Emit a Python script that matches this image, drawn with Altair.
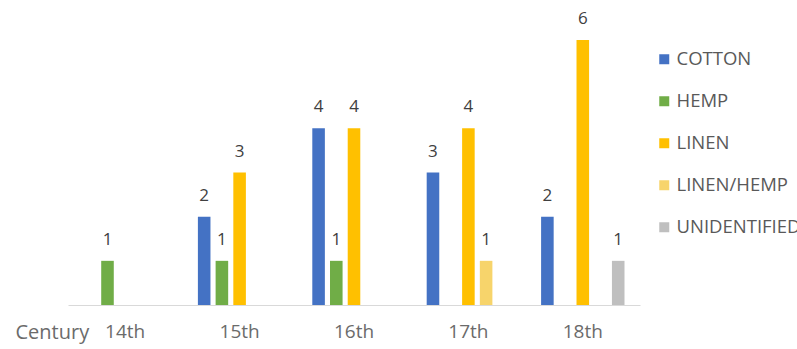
import altair as alt
import pandas as pd

centuries = ["14th", "15th", "16th", "17th", "18th"]
materials = ["COTTON", "HEMP", "LINEN", "LINEN/HEMP", "UNIDENTIFIED"]
colors = ["#4472C4", "#70AD47", "#FFC000", "#F7D46B", "#BFBFBF"]

row_century = ["14th", "15th", "15th", "15th", "16th", "16th", "16th",
               "17th", "17th", "17th", "18th", "18th", "18th"]
row_material = ["HEMP", "COTTON", "HEMP", "LINEN", "COTTON", "HEMP", "LINEN",
                "COTTON", "LINEN", "LINEN/HEMP", "COTTON", "LINEN", "UNIDENTIFIED"]
row_count = [1, 2, 1, 3, 4, 1, 4, 3, 4, 1, 2, 6, 1]

df = pd.DataFrame({"Century": row_century, "Material": row_material, "Count": row_count})

FONT = "Open Sans"

x = alt.X("Century:N", sort=centuries,
          scale=alt.Scale(domain=centuries, paddingInner=0.226, paddingOuter=0.113),
          axis=alt.Axis(title="Century", titleX=-53, titleY=17, titleAlign="left",
                        titleBaseline="top", titleFontWeight="normal", titleFont=FONT,
                        titleFontSize=20, titleColor="#6b6b6b",
                        labelAngle=0, labelFont=FONT, labelFontSize=19, labelColor="#6b6b6b",
                        labelPadding=17, ticks=False, domainColor="#d9d9d9", domainWidth=1,
                        grid=False))
xo = alt.XOffset("Material:N", sort=materials,
                 scale=alt.Scale(domain=materials, paddingInner=0.29, paddingOuter=0.145))
y = alt.Y("Count:Q", scale=alt.Scale(domain=[0, 6], nice=False), axis=None)

bars = alt.Chart(df).mark_bar().encode(
    x=x, xOffset=xo, y=y,
    color=alt.Color("Material:N", sort=materials,
                    scale=alt.Scale(domain=materials, range=colors),
                    legend=alt.Legend(title=None, orient="none", legendX=587, legendY=10,
                                      symbolType="square", symbolSize=100, symbolStrokeWidth=0,
                                      labelFont=FONT, labelFontSize=18.5, labelColor="#595959",
                                      labelOffset=3, rowPadding=23, labelLimit=400)),
)

labels = alt.Chart(df).mark_text(baseline="bottom", dy=-12, font=FONT, fontSize=17,
                                 color="#404040").encode(
    x=alt.X("Century:N", sort=centuries), xOffset=alt.XOffset("Material:N", sort=materials),
    y=y, text="Count:Q")

chart = (bars + labels).properties(
    width=572, height=265,
    background="white",
    autosize=alt.AutoSizeParams(type="none"),
    padding={"left": 68, "top": 40, "right": 157, "bottom": 44},
).configure_view(stroke=None)

chart.save("out.html", embed_options={"renderer": "svg", "actions": False})
